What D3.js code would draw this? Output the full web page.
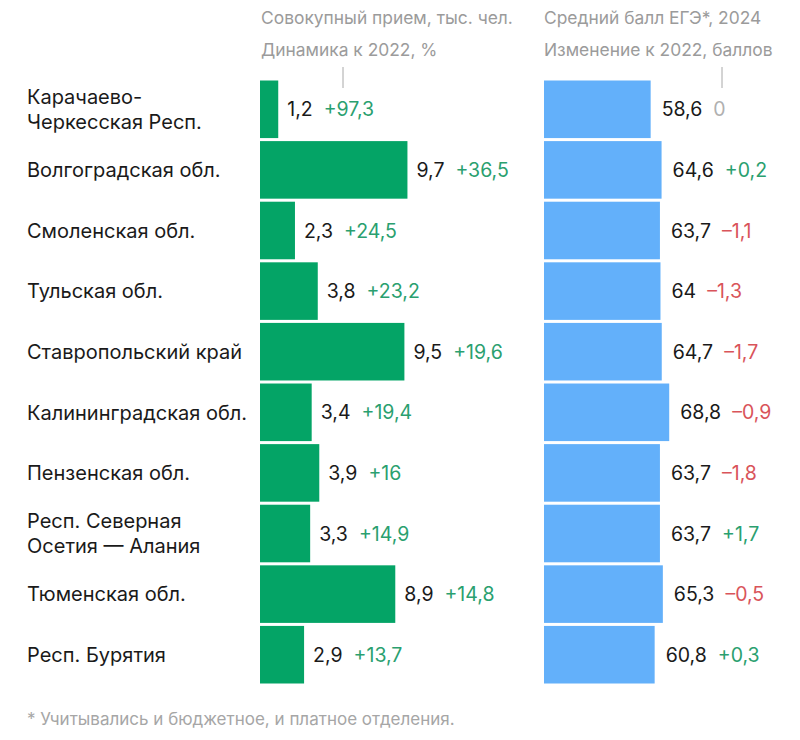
<!DOCTYPE html>
<html>
<head>
<meta charset="utf-8">
<script src="https://cdn.jsdelivr.net/npm/d3@7"></script>
<style>
  html, body { margin: 0; padding: 0; background: #ffffff; }
  svg { display: block; font-family: Inter, Roboto, "Noto Sans", sans-serif; }
</style>
</head>
<body>
<svg id="chart" width="800" height="740"></svg>
<script>
const regions = [
  ["Карачаево-", "Черкесская Респ."],
  ["Волгоградская обл."],
  ["Смоленская обл."],
  ["Тульская обл."],
  ["Ставропольский край"],
  ["Калининградская обл."],
  ["Пензенская обл."],
  ["Респ. Северная", "Осетия — Алания"],
  ["Тюменская обл."],
  ["Респ. Бурятия"]
];
const admission = [1.2, 9.7, 2.3, 3.8, 9.5, 3.4, 3.9, 3.3, 8.9, 2.9];
const admissionChange = [97.3, 36.5, 24.5, 23.2, 19.6, 19.4, 16, 14.9, 14.8, 13.7];
const egeScore = [58.6, 64.6, 63.7, 64, 64.7, 68.8, 63.7, 63.7, 65.3, 60.8];
const egeChange = [0, 0.2, -1.1, -1.3, -1.7, -0.9, -1.8, 1.7, -0.5, 0.3];
const headers = {
  left: ["Совокупный прием, тыс. чел.", "Динамика к 2022, %"],
  right: ["Средний балл ЕГЭ*, 2024", "Изменение к 2022, баллов"]
};
const footnote = "* Учитывались и бюджетное, и платное отделения.";

const svg = d3.select("#chart");
const idx = d3.range(regions.length);

const y = d3.scaleBand().domain(idx).range([80.5, 683.5]).paddingInner(0.05).paddingOuter(0);
const xA = d3.scaleLinear().domain([0, 10]).range([260, 412]);
const xE = d3.scaleLinear().domain([0, 100]).range([544, 726]);

const fmt = v => String(v).replace(".", ",");
const fmtChange = v => v === 0 ? "0" : (v > 0 ? "+" : "–") + fmt(Math.abs(v));
const changeColor = v => v === 0 ? "#b0b0b0" : (v > 0 ? "#2aa06f" : "#d9545a");

// headers
const hdr = svg.append("g").attr("fill", "#9b9b9b").attr("font-size", 17.4);
[[261, headers.left], [544, headers.right]].forEach(([x, lines]) => {
  lines.forEach((t, i) => {
    hdr.append("text").attr("x", x).attr("y", 24 + i * 32).text(t);
  });
});
// ticks
svg.selectAll(".tick").data([343, 722]).join("line")
  .attr("x1", d => d).attr("x2", d => d).attr("y1", 67).attr("y2", 88)
  .attr("stroke", "#a8a8a8").attr("stroke-width", 1);

// category labels
const lab = svg.append("g").attr("font-size", 20).attr("fill", "#1a1a1a");
idx.forEach(i => {
  const lines = regions[i];
  const cy = y(i) + y.bandwidth() / 2;
  lines.forEach((t, j) => {
    lab.append("text")
      .attr("x", 27)
      .attr("y", cy + (j - (lines.length - 1) / 2) * 24.5)
      .attr("dy", "0.36em")
      .text(t);
  });
});

// admission bars
svg.append("g").selectAll("rect").data(idx).join("rect")
  .attr("x", xA(0)).attr("y", i => y(i))
  .attr("width", i => xA(admission[i]) - xA(0))
  .attr("height", y.bandwidth())
  .attr("fill", "#04a466");

// ege bars
svg.append("g").selectAll("rect").data(idx).join("rect")
  .attr("x", xE(0)).attr("y", i => y(i))
  .attr("width", i => xE(egeScore[i]) - xE(0))
  .attr("height", y.bandwidth())
  .attr("fill", "#63b0fa");

function pairLabels(values, changes, xs, gap) {
  const g = svg.append("g").attr("font-size", 19.5);
  idx.forEach(i => {
    const cy = y(i) + y.bandwidth() / 2;
    const x0 = xs(values[i]) + gap;
    const v = g.append("text").attr("x", x0).attr("y", cy).attr("dy", "0.36em")
      .attr("fill", "#1a1a1a").text(fmt(values[i]));
    const w = v.node().getComputedTextLength();
    g.append("text").attr("x", x0 + w + 11).attr("y", cy).attr("dy", "0.36em")
      .attr("fill", changeColor(changes[i])).text(fmtChange(changes[i]));
  });
}
pairLabels(admission, admissionChange, xA, 9);
pairLabels(egeScore, egeChange, xE, 11);

// footnote
svg.append("text").attr("x", 27).attr("y", 719).attr("dy", "0.36em")
  .attr("font-size", 17).attr("fill", "#a6a6a6").text(footnote);
</script>
</body>
</html>
